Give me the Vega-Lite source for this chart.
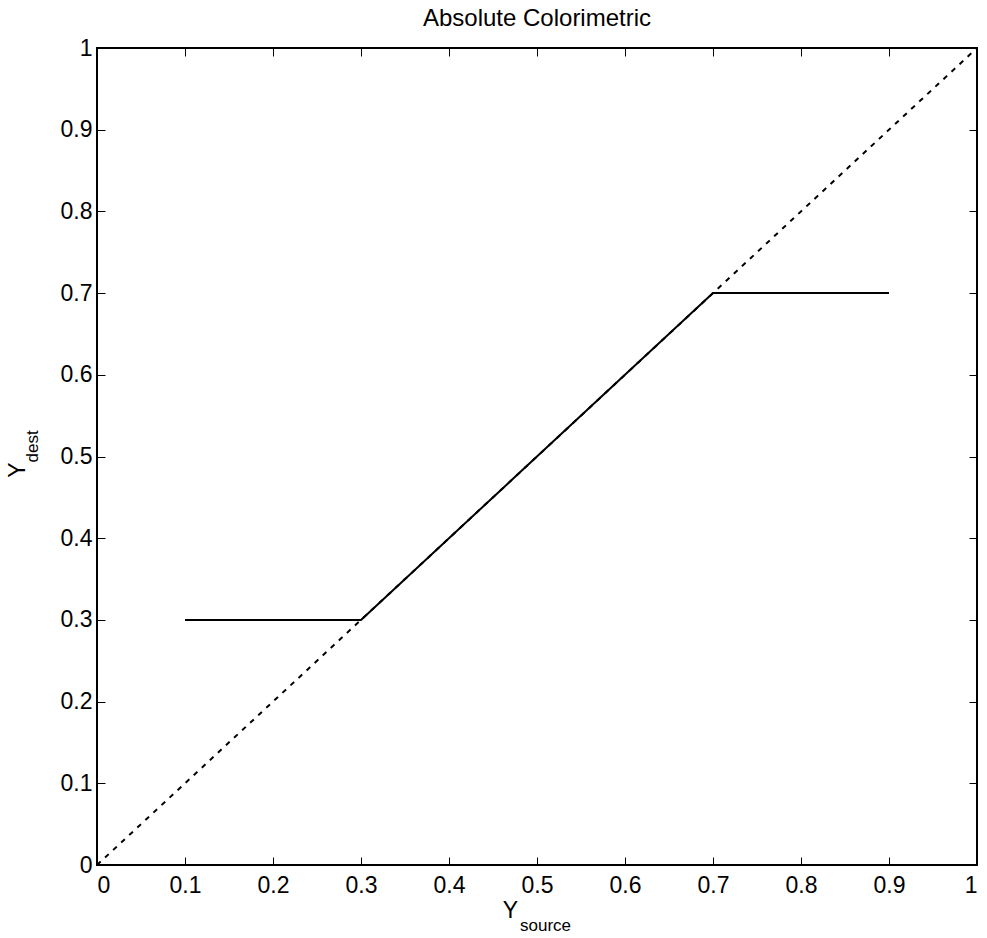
{
  "$schema": "https://vega.github.io/schema/vega-lite/v6.json",
  "width": 880,
  "height": 817,
  "autosize": {"type": "none"},
  "padding": {"left": 97, "top": 48, "right": 10, "bottom": 73},
  "background": "white",
  "title": {"text": "Absolute Colorimetric", "fontSize": 24, "font": "Liberation Sans", "fontWeight": "normal", "color": "black", "offset": 6},
  "config": {
    "view": {"stroke": "black", "strokeWidth": 2}
  },
  "datasets": {
    "diag": [{"ys": 0, "yd": 0}, {"ys": 1, "yd": 1}],
    "curve": [{"ys": 0.1, "yd": 0.3}, {"ys": 0.3, "yd": 0.3}, {"ys": 0.7, "yd": 0.7}, {"ys": 0.9, "yd": 0.7}],
    "one": [{"k": 1}]
  },
  "resolve": {"axis": {"x": "independent", "y": "independent"}},
  "layer": [
    {
      "data": {"name": "diag"},
      "mark": {"type": "line", "color": "black", "strokeWidth": 2, "strokeDash": [5, 6]},
      "encoding": {
        "x": {"field": "ys", "type": "quantitative", "scale": {"domain": [0, 1], "nice": false, "zero": false}, "axis": {"orient": "bottom", "values": [0, 0.1, 0.2, 0.3, 0.4, 0.5, 0.6, 0.7, 0.8, 0.9, 1], "format": "~g", "labelPadding": 17, "grid": false, "domain": false, "tickSize": -8, "tickColor": "black", "tickWidth": 1, "labelFont": "Liberation Sans", "labelFontSize": 23, "labelColor": "black", "title": null}},
        "y": {"field": "yd", "type": "quantitative", "scale": {"domain": [0, 1], "nice": false, "zero": false}, "axis": {"orient": "left", "values": [0, 0.1, 0.2, 0.3, 0.4, 0.5, 0.6, 0.7, 0.8, 0.9, 1], "format": "~g", "labelPadding": 13, "grid": false, "domain": false, "tickSize": -8, "tickColor": "black", "tickWidth": 1, "labelFont": "Liberation Sans", "labelFontSize": 23, "labelColor": "black", "title": null}}
      }
    },
    {
      "data": {"name": "curve"},
      "mark": {"type": "line", "color": "black", "strokeWidth": 2},
      "encoding": {
        "x": {"field": "ys", "type": "quantitative", "axis": {"orient": "top", "values": [0, 0.1, 0.2, 0.3, 0.4, 0.5, 0.6, 0.7, 0.8, 0.9, 1], "labels": false, "grid": false, "domain": false, "tickSize": -8, "tickColor": "black", "tickWidth": 1, "title": null}},
        "y": {"field": "yd", "type": "quantitative", "axis": {"orient": "right", "values": [0, 0.1, 0.2, 0.3, 0.4, 0.5, 0.6, 0.7, 0.8, 0.9, 1], "labels": false, "grid": false, "domain": false, "tickSize": -8, "tickColor": "black", "tickWidth": 1, "title": null}}
      }
    },
    {
      "data": {"name": "one"},
      "mark": {"type": "text", "text": "Y", "font": "Liberation Sans", "fontSize": 23, "align": "right", "baseline": "alphabetic", "dx": -19, "dy": 53, "clip": false, "color": "black"},
      "encoding": {"x": {"datum": 0.5, "type": "quantitative", "axis": null}, "y": {"datum": 0, "type": "quantitative", "axis": null}}
    },
    {
      "data": {"name": "one"},
      "mark": {"type": "text", "text": "source", "font": "Liberation Sans", "fontSize": 17, "align": "left", "baseline": "alphabetic", "dx": -17, "dy": 66, "clip": false, "color": "black"},
      "encoding": {"x": {"datum": 0.5, "type": "quantitative", "axis": null}, "y": {"datum": 0, "type": "quantitative", "axis": null}}
    },
    {
      "data": {"name": "one"},
      "mark": {"type": "text", "text": "Y", "font": "Liberation Sans", "fontSize": 23, "angle": 270, "align": "right", "baseline": "alphabetic", "dx": -6, "dy": -72, "clip": false, "color": "black"},
      "encoding": {"x": {"datum": 0, "type": "quantitative", "axis": null}, "y": {"datum": 0.5, "type": "quantitative", "axis": null}}
    },
    {
      "data": {"name": "one"},
      "mark": {"type": "text", "text": "dest", "font": "Liberation Sans", "fontSize": 17, "angle": 270, "align": "left", "baseline": "alphabetic", "dx": -6, "dy": -59, "clip": false, "color": "black"},
      "encoding": {"x": {"datum": 0, "type": "quantitative", "axis": null}, "y": {"datum": 0.5, "type": "quantitative", "axis": null}}
    }
  ]
}
